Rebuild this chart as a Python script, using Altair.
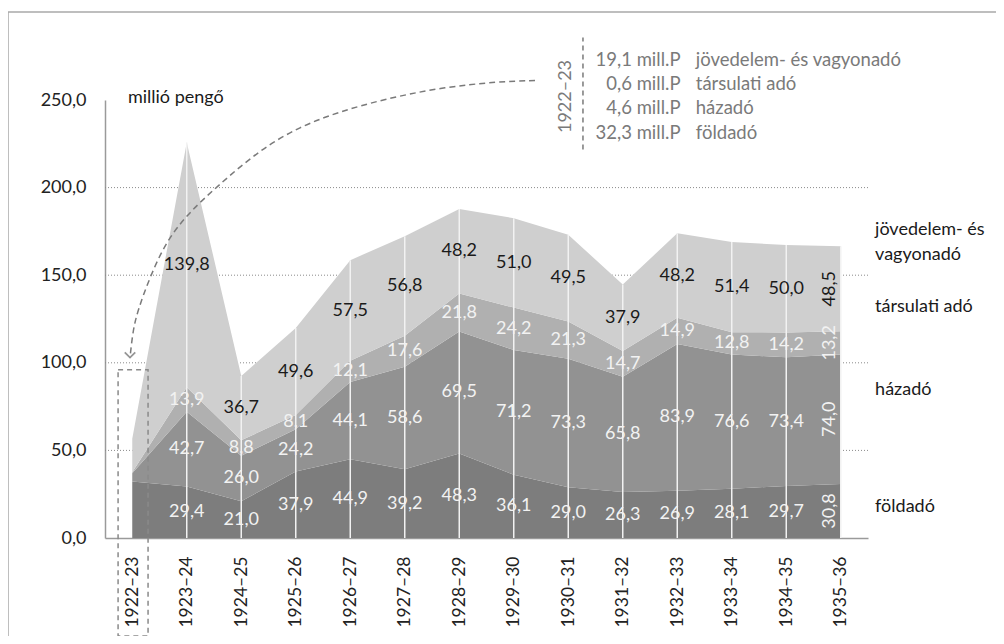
import altair as alt
import pandas as pd

# ---- data ----
periods = ["1922–23", "1923–24", "1924–25", "1925–26", "1926–27", "1927–28", "1928–29",
           "1929–30", "1930–31", "1931–32", "1932–33", "1933–34", "1934–35", "1935–36"]
foldado = [32.3, 29.4, 21.0, 37.9, 44.9, 39.2, 48.3, 36.1, 29.0, 26.3, 26.9, 28.1, 29.7, 30.8]
hazado = [4.6, 42.7, 26.0, 24.2, 44.1, 58.6, 69.5, 71.2, 73.3, 65.8, 83.9, 76.6, 73.4, 74.0]
tarsulati = [0.6, 13.9, 8.8, 8.1, 12.1, 17.6, 21.8, 24.2, 21.3, 14.7, 14.9, 12.8, 14.2, 13.2]
jovedelem = [19.1, 139.8, 36.7, 49.6, 57.5, 56.8, 48.2, 51.0, 49.5, 37.9, 48.2, 51.4, 50.0, 48.5]

series_names = ["földadó", "házadó", "társulati adó", "jövedelem- és vagyonadó"]
series_values = [foldado, hazado, tarsulati, jovedelem]
series_colors = ["#7d7d7d", "#929292", "#b0b0b0", "#cfcfcf"]
label_colors = ["#f2f2f2", "#f2f2f2", "#f2f2f2", "#1a1a1a"]

y_ticks = [0, 50, 100, 150, 200, 250]
grid_values = [50, 100, 150, 200]

right_labels = ["jövedelem- és", "vagyonadó", "társulati adó", "házadó", "földadó"]
right_label_y = [176, 161.7, 132, 84.6, 17.7]

note_period = "1922–23"
note_values = ["19,1 mill.P", "0,6 mill.P", "4,6 mill.P", "32,3 mill.P"]
note_names = ["jövedelem- és vagyonadó", "társulati adó", "házadó", "földadó"]
note_y = [273.1, 259.4, 245.7, 230.9]

# dashed arrow path (data units: x index, y value)
arrow_x = [7.39, 6.748, 5.647, 4.601, 3.812, 3.078, 2.344, 1.555, 1.060, 0.638, 0.326, 0.106, 0.014, -0.041]
arrow_y = [261.1, 260.6, 257.1, 250.3, 243.4, 234.9, 221.7, 200.6, 186.3, 170.3, 149.1, 130.3, 118.9, 103.0]

FONT = "Lato"
FS = 18
W, H = 763, 438

def fmt(v):
    return f"{v:.1f}".replace(".", ",")

# ---- build tables ----
n = len(periods)
rows = []
lab_rows = []
cum = [0.0] * n
for s, (name, vals) in enumerate(zip(series_names, series_values)):
    for i in range(n):
        lo = cum[i]
        hi = lo + vals[i]
        rows.append({"idx": i, "series": name, "lo": lo, "hi": hi, "s": s})
        if i > 0:
            lab_rows.append({"idx": i, "mid": (lo + hi) / 2, "label": fmt(vals[i]),
                             "color": label_colors[s], "rot": i == n - 1})
        cum[i] = hi
df = pd.DataFrame(rows)
labels = pd.DataFrame(lab_rows)
totals = pd.DataFrame({"idx": list(range(n)), "total": cum, "zero": [0.0] * n})

xscale = alt.Scale(domain=[-0.5, n - 0.5], nice=False, zero=False)
yscale = alt.Scale(domain=[0, 250], nice=False)

label_expr = "[" + ",".join(f"'{p}'" for p in periods) + "][datum.value]"

x_axis = alt.Axis(values=list(range(n)), labelExpr=label_expr, labelAngle=270,
                  labelFont=FONT, labelFontSize=17.5, labelColor="#222", labelPadding=18,
                  ticks=False, domainColor="#9a9a9a", domainWidth=1.5, grid=False, title=None)
y_axis = alt.Axis(values=y_ticks, labelExpr="replace(format(datum.value, '.1f'), '.', ',')",
                  labelFont=FONT, labelFontSize=FS, labelColor="#222", labelPadding=19,
                  ticks=False, domainColor="#9a9a9a", domainWidth=1.5, grid=False, title=None)

# gridlines
grid = alt.Chart(pd.DataFrame({"g": grid_values})).mark_rule(
    color="#8a8a8a", strokeDash=[1, 2], strokeWidth=1
).encode(y=alt.Y("g:Q", scale=yscale, axis=y_axis), x=alt.value(0), x2=alt.value(W))

# areas
areas = []
for s, name in enumerate(series_names):
    d = df[df["series"] == name]
    areas.append(
        alt.Chart(d).mark_area(color=series_colors[s], opacity=1, interpolate="linear").encode(
            x=alt.X("idx:Q", scale=xscale, axis=x_axis),
            y=alt.Y("lo:Q", scale=yscale),
            y2="hi:Q",
        )
    )

# white drop lines
drops = alt.Chart(totals[totals["idx"] > 0]).mark_rule(color="#f2f2f2", strokeWidth=1.5).encode(
    x=alt.X("idx:Q", scale=xscale), y=alt.Y("zero:Q", scale=yscale), y2="total:Q"
)

# labels
lab_h = alt.Chart(labels[~labels["rot"]]).mark_text(font=FONT, fontSize=FS, baseline="middle").encode(
    x=alt.X("idx:Q", scale=xscale), y=alt.Y("mid:Q", scale=yscale),
    text="label:N", color=alt.Color("color:N", scale=None)
)
lab_v = alt.Chart(labels[labels["rot"]]).mark_text(font=FONT, fontSize=FS, baseline="bottom",
                                                   angle=270, dy=-2).encode(
    x=alt.X("idx:Q", scale=xscale), y=alt.Y("mid:Q", scale=yscale),
    text="label:N", color=alt.Color("color:N", scale=None)
)

# right side labels
rl = alt.Chart(pd.DataFrame({"t": right_labels, "y": right_label_y, "x": [13.63] * 5})).mark_text(
    font=FONT, fontSize=FS, align="left", baseline="middle", color="#1a1a1a", clip=False
).encode(x=alt.X("x:Q", scale=xscale), y=alt.Y("y:Q", scale=yscale), text="t:N")

# unit label
unit = alt.Chart(pd.DataFrame({"t": ["millió pengő"], "x": [-0.08], "y": [251]})).mark_text(
    font=FONT, fontSize=FS, align="left", baseline="middle", color="#1a1a1a", clip=False
).encode(x=alt.X("x:Q", scale=xscale), y=alt.Y("y:Q", scale=yscale), text="t:N")

# annotation: values and names
note_df = pd.DataFrame({"v": note_values, "n": note_names, "y": note_y,
                        "xv": [10.06] * 4, "xn": [10.34] * 4})
note_v = alt.Chart(note_df).mark_text(font=FONT, fontSize=18.5, align="right", baseline="middle",
                                       color="#7a7a7a", clip=False).encode(
    x=alt.X("xv:Q", scale=xscale), y=alt.Y("y:Q", scale=yscale), text="v:N")
note_n = alt.Chart(note_df).mark_text(font=FONT, fontSize=18.5, align="left", baseline="middle",
                                       color="#7a7a7a", clip=False).encode(
    x=alt.X("xn:Q", scale=xscale), y=alt.Y("y:Q", scale=yscale), text="n:N")
note_p = alt.Chart(pd.DataFrame({"t": [note_period], "x": [7.96], "y": [252]})).mark_text(
    font=FONT, fontSize=18, angle=270, align="center", baseline="middle", color="#7a7a7a", clip=False
).encode(x=alt.X("x:Q", scale=xscale), y=alt.Y("y:Q", scale=yscale), text="t:N")
note_rule = alt.Chart(pd.DataFrame({"x": [8.27], "a": [221.7], "b": [285.7]})).mark_rule(
    color="#7a7a7a", strokeDash=[5, 4], strokeWidth=1.5, clip=False
).encode(x=alt.X("x:Q", scale=xscale), y=alt.Y("a:Q", scale=yscale), y2="b:Q")

# dashed arrow
arr_df = pd.DataFrame({"x": arrow_x, "y": arrow_y, "o": list(range(len(arrow_x)))})
arrow = alt.Chart(arr_df).mark_line(color="#7a7a7a", strokeDash=[6, 4], strokeWidth=1.5,
                                    interpolate="basis", clip=False).encode(
    x=alt.X("x:Q", scale=xscale), y=alt.Y("y:Q", scale=yscale), order="o:Q")
head = alt.Chart(arr_df.tail(1)).mark_point(
    shape="M -1 -1 L 0 0 L 1 -1", filled=False, stroke="#6a6a6a", strokeWidth=1.8, size=110, clip=False
).encode(x=alt.X("x:Q", scale=xscale), y=alt.Y("y:Q", scale=yscale))

# dashed box around first period
box = alt.Chart(pd.DataFrame({"x1": [-0.26], "x2": [0.29], "y1": [96], "y2": [-56]})).mark_rect(
    filled=False, stroke="#8a8a8a", strokeDash=[5, 4], strokeWidth=1.5, clip=False
).encode(x=alt.X("x1:Q", scale=xscale), x2="x2:Q", y=alt.Y("y1:Q", scale=yscale), y2="y2:Q")

# outer frame (top and left edges)
frame_top = alt.Chart(pd.DataFrame({"a": [0]})).mark_rule(color="#a8a8a8", strokeWidth=1.5).encode(
    x=alt.value(-97), x2=alt.value(891), y=alt.value(-88))
frame_left = alt.Chart(pd.DataFrame({"a": [0]})).mark_rule(color="#a8a8a8", strokeWidth=1.5).encode(
    x=alt.value(-97), y=alt.value(-88), y2=alt.value(536))

chart = alt.layer(
    grid, *areas, drops, lab_h, lab_v, rl, unit,
    note_v, note_n, note_p, note_rule, arrow, head, box, frame_top, frame_left
).properties(
    width=W, height=H,
    padding={"left": 97, "top": 92, "right": 128, "bottom": 98},
    autosize=alt.AutoSizeParams(type="none"),
    background="white",
).configure_view(stroke=None)

chart.save("out.html", embed_options={"renderer": "svg", "actions": False})
